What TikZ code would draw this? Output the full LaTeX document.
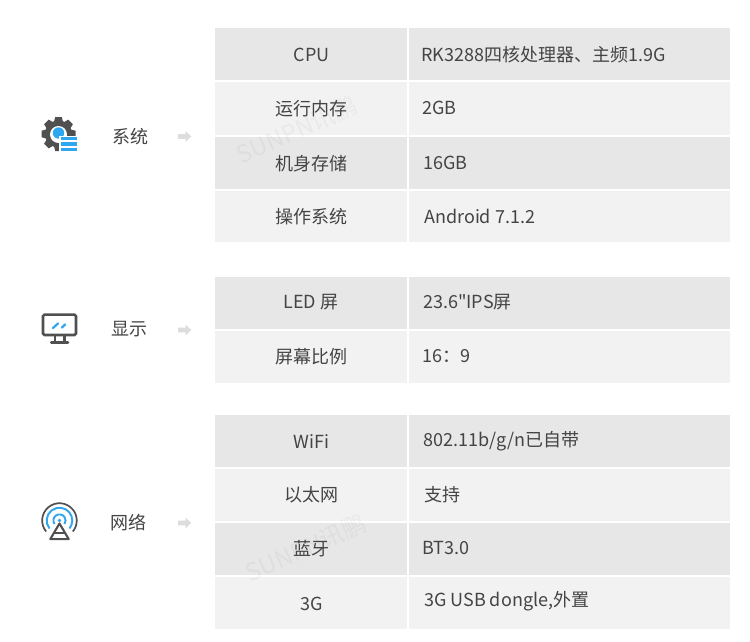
\documentclass[tikz,border=0pt]{standalone}
\usepackage{fontspec}
\setmainfont{Noto Sans CJK SC}[Ligatures=TeXOff]
\usetikzlibrary{calc}
\definecolor{rowdark}{HTML}{E7E7E7}
\definecolor{rowlight}{HTML}{F2F2F2}
\definecolor{txt}{HTML}{444444}
\definecolor{icondark}{HTML}{505050}
\definecolor{iconblue}{HTML}{2EA7F0}
\definecolor{arrowgrey}{HTML}{DDDDDD}
\tikzset{
  x=1pt,y=-1pt,
  celltext/.style={font=\fontsize{18}{18}\selectfont,text=txt,inner sep=0pt,yshift=-0.4pt},
  lefttext/.style={celltext,anchor=center},
  righttext/.style={celltext,anchor=west},
  grouptext/.style={celltext,anchor=center},
  wmark/.style={font=\fontsize{24}{24}\selectfont,text=black,opacity=0.035,rotate=24,inner sep=0pt},
  iconline/.style={draw=icondark,line width=2.6pt},
  blueline/.style={draw=iconblue,line width=2.2pt,line cap=round},
}
\newcommand{\specrow}[3]{%
  \fill[#3] (215,#1) rectangle (406.7,#2);
  \fill[#3] (408.5,#1) rectangle (730,#2);
}
\newcommand{\greyarrow}[2]{%
  \fill[arrowgrey] (#1-6.5,#2-2.3) -- (#1+1,#2-2.3) -- (#1+1,#2-5.5) -- (#1+6.8,#2) -- (#1+1,#2+5.5) -- (#1+1,#2+2.3) -- (#1-6.5,#2+2.3) -- cycle;
}
\begin{document}
\begin{tikzpicture}
\useasboundingbox (0,0) rectangle (750,642);
\fill[white] (0,0) rectangle (750,642);
% rows
\specrow{28}{80}{rowdark}
\specrow{82}{135}{rowlight}
\specrow{136.5}{188.5}{rowdark}
\specrow{190.5}{242}{rowlight}
\specrow{277}{329}{rowdark}
\specrow{331}{382.5}{rowlight}
\specrow{415}{467}{rowdark}
\specrow{469}{521}{rowlight}
\specrow{522.5}{574.5}{rowdark}
\specrow{576.5}{628.5}{rowlight}
% watermarks
\node[wmark] (wm1) at (297,130) {SUNPN讯鹏};
\node[wmark] (wm2) at (306,548) {SUNPN讯鹏};
% left column
\node[lefttext] (a1) at (311.5,54.5) {CPU};
\node[lefttext] (a2) at (311,108) {运行内存};
\node[lefttext] (a3) at (311,163) {机身存储};
\node[lefttext] (a4) at (311,216) {操作系统};
\node[lefttext] (a5) at (311,302) {LED 屏};
\node[lefttext] (a6) at (311,356) {屏幕比例};
\node[lefttext] (a7) at (311.5,441) {WiFi};
\node[lefttext] (a8) at (311,494) {以太网};
\node[lefttext] (a9) at (311,548) {蓝牙};
\node[lefttext] (a10) at (311.5,603) {3G};
% right column
\node[righttext] (b1) at (421,54.5) {RK3288四核处理器、主频1.9G};
\node[righttext] (b2) at (422,108) {2GB};
\node[righttext] (b3) at (423,163) {16GB};
\node[righttext] (b4) at (424,216) {Android 7.1.2};
\node[righttext] (b5) at (423,302) {23.6"IPS屏};
\node[righttext] (b6) at (422,356) {16：9};
\node[righttext] (b7) at (423,441) {802.11b/g/n已自带};
\node[righttext] (b8) at (424,494) {支持};
\node[righttext] (b9) at (422,548) {BT3.0};
\node[righttext] (b10) at (424,601) {3G USB dongle,外置};
% group labels
\node[grouptext] (g1) at (130,136) {系统};
\node[grouptext] (g2) at (129.5,329) {显示};
\node[grouptext] (g3) at (128.5,522) {网络};
% arrows
\greyarrow{184.5}{136.5}
\greyarrow{184.5}{330}
\greyarrow{184.5}{523}
% gear icon
\begin{scope}[shift={(58.5,134)}]
  \fill[icondark] (0,0) circle (13.5);
  \foreach \a in {0,45,...,315} {
    \fill[icondark,rotate=\a] (-3.3,-17) -- (3.3,-17) -- (4.8,-11) -- (-4.8,-11) -- cycle;
  }
  \fill[white] (0,0.5) circle (8.5);
  \fill[iconblue] (0,-1) circle (5.7);
  \fill[white] (0.5,1.5) rectangle (20,19);
  \fill[iconblue] (2.2,2.8) rectangle (18.2,6.2);
  \fill[iconblue] (2.2,8.2) rectangle (18.2,11.6);
  \fill[iconblue] (2.2,13.6) rectangle (18.2,17.4);
\end{scope}
% monitor icon
\draw[iconline,rounded corners=1.5pt] (43,314.6) rectangle (76,335);
\draw[iconline] (55,336) -- (55,342) (64.5,336) -- (64.5,342);
\draw[iconline,line cap=round] (51.3,342.7) -- (68,342.7);
\draw[blueline] (53,328) -- (58,323.5);
\draw[blueline] (62,327.5) -- (65,324.5);
% antenna icon
\begin{scope}[shift={(59.5,520.5)}]
  \draw[icondark,line width=1.7pt] (-13.4,11) arc[start angle=140.6,delta angle=258.8,radius=17.3];
  \draw[iconblue,line width=1.9pt] (-10,8) arc[start angle=141.3,delta angle=257.4,radius=12.8];
  \draw[iconblue,line width=1.9pt] (-5,3.5) arc[start angle=145,delta angle=250,radius=6.1];
  \fill[iconblue] (0,0) circle (1.8);
  \draw[icondark,line width=2.1pt,line join=round] (0,3) -- (-9.2,18.6) -- (9.2,18.6) -- cycle;
  \draw[icondark,line width=2pt] (-5.5,12.5) -- (5.5,12.5);
\end{scope}
\end{tikzpicture}
\end{document}
